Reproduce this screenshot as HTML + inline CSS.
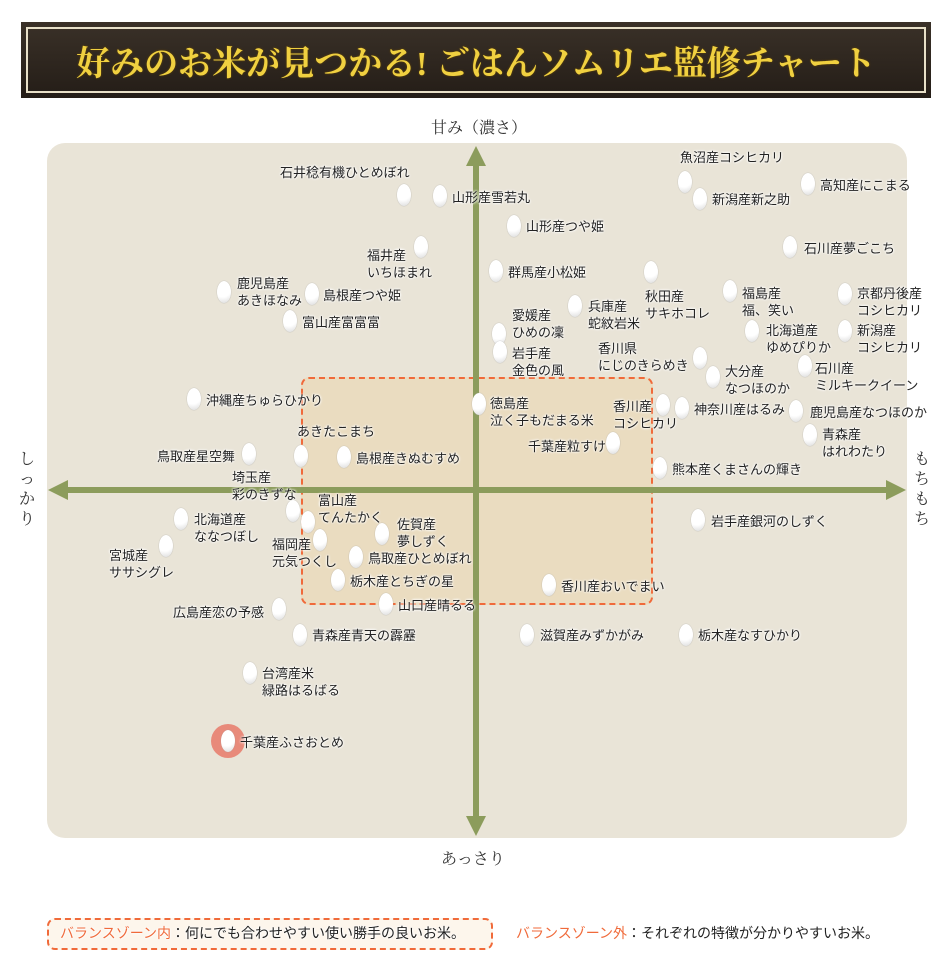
<!DOCTYPE html>
<html><head><meta charset="utf-8"><style>
body{margin:0;width:950px;height:970px;background:#fff;position:relative;overflow:hidden;font-family:"Liberation Sans","Noto Sans CJK JP",sans-serif;}
.hdr{position:absolute;left:21px;top:22px;width:910px;height:76px;background:linear-gradient(#3a3128,#241d17);box-sizing:border-box;}
.hdr .in{position:absolute;left:5px;top:5px;right:5px;bottom:5px;border:2px solid #e8e0c8;}
.hdr .t{position:absolute;left:0;right:0;top:14px;text-align:center;font-family:"Liberation Serif","Noto Serif CJK SC",serif;font-weight:bold;font-size:34px;color:#f0d040;text-shadow:0 0 2px #6a4a00;}
.chart{position:absolute;left:47px;top:143px;width:860px;height:695px;border-radius:18px;background:#e9e4d7;}
.zone{position:absolute;left:301px;top:377px;width:352px;height:228px;border:2.5px dashed #f06a3a;border-radius:8px;background:rgba(238,205,150,0.35);box-sizing:border-box;}
.ax{position:absolute;font-family:"Liberation Serif","Noto Serif CJK JP",serif;font-size:16px;color:#333;}
.l{position:absolute;font-size:13px;line-height:17px;white-space:nowrap;color:#222;text-shadow:0 0 2px #fff,0 0 2px #fff,0 0 3px #fff;}
.g{position:absolute;width:14px;height:22px;margin:-11px 0 0 -7px;border-radius:50%;background:radial-gradient(circle at 40% 35%,#fff 50%,#d8d8d8);box-shadow:0 0 1px #999;}
</style></head><body>
<div class="hdr"><div class="in"></div><div class="t">好みのお米が見つかる! ごはんソムリエ監修チャート</div></div>
<div class="ax" style="left:431px;top:115px">甘み（濃さ）</div>
<div class="ax" style="left:441px;top:846px">あっさり</div>
<div class="ax" style="left:19px;top:450px;width:17px;line-height:20px">し<br>っ<br>か<br>り</div>
<div class="ax" style="left:914px;top:450px;width:17px;line-height:20px">も<br>ち<br>も<br>ち</div>
<div class="chart"></div>
<div class="zone"></div>
<svg style="position:absolute;left:0;top:0" width="950" height="970">
<line x1="476" y1="162" x2="476" y2="822" stroke="#8c9c5c" stroke-width="6"/>
<polygon points="476,146 466,166 486,166" fill="#8c9c5c"/>
<polygon points="476,836 466,816 486,816" fill="#8c9c5c"/>
<line x1="64" y1="490" x2="890" y2="490" stroke="#8c9c5c" stroke-width="6"/>
<polygon points="48,490 68,480 68,500" fill="#8c9c5c"/>
<polygon points="906,490 886,480 886,500" fill="#8c9c5c"/>
<circle cx="228" cy="741" r="17" fill="#e88070" opacity="0.9"/>
</svg>
<div class="l" style="left:280px;top:164px">石井稔有機ひとめぼれ</div><div class="g" style="left:404px;top:195px"></div>
<div class="g" style="left:440px;top:196px"></div><div class="l" style="left:452px;top:189px">山形産雪若丸</div>
<div class="g" style="left:514px;top:226px"></div><div class="l" style="left:526px;top:218px">山形産つや姫</div>
<div class="g" style="left:421px;top:247px"></div><div class="l" style="left:367px;top:247px">福井産<br>いちほまれ</div>
<div class="g" style="left:496px;top:271px"></div><div class="l" style="left:508px;top:264px">群馬産小松姫</div>
<div class="g" style="left:224px;top:292px"></div><div class="l" style="left:237px;top:275px">鹿児島産<br>あきほなみ</div>
<div class="g" style="left:312px;top:294px"></div><div class="l" style="left:323px;top:287px">島根産つや姫</div>
<div class="g" style="left:290px;top:321px"></div><div class="l" style="left:302px;top:314px">富山産富富富</div>
<div class="g" style="left:499px;top:334px"></div><div class="l" style="left:512px;top:307px">愛媛産<br>ひめの凜</div>
<div class="g" style="left:500px;top:352px"></div><div class="l" style="left:512px;top:345px">岩手産<br>金色の風</div>
<div class="g" style="left:575px;top:306px"></div><div class="l" style="left:588px;top:298px">兵庫産<br>蛇紋岩米</div>
<div class="g" style="left:651px;top:272px"></div><div class="l" style="left:645px;top:288px">秋田産<br>サキホコレ</div>
<div class="g" style="left:730px;top:291px"></div><div class="l" style="left:742px;top:285px">福島産<br>福、笑い</div>
<div class="g" style="left:845px;top:294px"></div><div class="l" style="left:857px;top:285px">京都丹後産<br>コシヒカリ</div>
<div class="g" style="left:752px;top:331px"></div><div class="l" style="left:766px;top:322px">北海道産<br>ゆめぴりか</div>
<div class="g" style="left:845px;top:331px"></div><div class="l" style="left:857px;top:322px">新潟産<br>コシヒカリ</div>
<div class="l" style="left:598px;top:340px">香川県<br>にじのきらめき</div><div class="g" style="left:700px;top:358px"></div>
<div class="g" style="left:713px;top:377px"></div><div class="l" style="left:725px;top:363px">大分産<br>なつほのか</div>
<div class="g" style="left:805px;top:366px"></div><div class="l" style="left:815px;top:360px">石川産<br>ミルキークイーン</div>
<div class="l" style="left:680px;top:149px">魚沼産コシヒカリ</div><div class="g" style="left:685px;top:182px"></div>
<div class="g" style="left:700px;top:199px"></div><div class="l" style="left:712px;top:191px">新潟産新之助</div>
<div class="g" style="left:808px;top:184px"></div><div class="l" style="left:820px;top:177px">高知産にこまる</div>
<div class="g" style="left:790px;top:247px"></div><div class="l" style="left:804px;top:240px">石川産夢ごこち</div>
<div class="g" style="left:194px;top:399px"></div><div class="l" style="left:206px;top:392px">沖縄産ちゅらひかり</div>
<div class="g" style="left:479px;top:404px"></div><div class="l" style="left:490px;top:395px">徳島産<br>泣く子もだまる米</div>
<div class="g" style="left:663px;top:405px"></div><div class="l" style="left:613px;top:398px">香川産<br>コシヒカリ</div>
<div class="g" style="left:682px;top:408px"></div><div class="l" style="left:694px;top:401px">神奈川産はるみ</div>
<div class="g" style="left:796px;top:411px"></div><div class="l" style="left:810px;top:404px">鹿児島産なつほのか</div>
<div class="g" style="left:810px;top:435px"></div><div class="l" style="left:822px;top:426px">青森産<br>はれわたり</div>
<div class="l" style="left:297px;top:423px">あきたこまち</div><div class="g" style="left:301px;top:456px"></div>
<div class="g" style="left:344px;top:457px"></div><div class="l" style="left:356px;top:450px">島根産きぬむすめ</div>
<div class="l" style="left:157px;top:448px">鳥取産星空舞</div><div class="g" style="left:249px;top:454px"></div>
<div class="l" style="left:528px;top:438px">千葉産粒すけ</div><div class="g" style="left:613px;top:443px"></div>
<div class="l" style="left:232px;top:469px">埼玉産<br>彩のきずな</div>
<div class="g" style="left:660px;top:468px"></div><div class="l" style="left:672px;top:461px">熊本産くまさんの輝き</div>
<div class="g" style="left:181px;top:519px"></div><div class="l" style="left:194px;top:511px">北海道産<br>ななつぼし</div>
<div class="g" style="left:698px;top:520px"></div><div class="l" style="left:711px;top:513px">岩手産銀河のしずく</div>
<div class="g" style="left:166px;top:546px"></div><div class="l" style="left:109px;top:547px">宮城産<br>ササシグレ</div>
<div class="g" style="left:293px;top:511px"></div><div class="g" style="left:308px;top:522px"></div><div class="l" style="left:318px;top:492px">富山産<br>てんたかく</div>
<div class="g" style="left:382px;top:534px"></div><div class="l" style="left:397px;top:516px">佐賀産<br>夢しずく</div>
<div class="g" style="left:320px;top:540px"></div><div class="l" style="left:272px;top:536px">福岡産<br>元気つくし</div>
<div class="g" style="left:356px;top:557px"></div><div class="l" style="left:368px;top:550px">鳥取産ひとめぼれ</div>
<div class="g" style="left:338px;top:580px"></div><div class="l" style="left:350px;top:573px">栃木産とちぎの星</div>
<div class="g" style="left:549px;top:585px"></div><div class="l" style="left:561px;top:578px">香川産おいでまい</div>
<div class="g" style="left:386px;top:604px"></div><div class="l" style="left:398px;top:597px">山口産晴るる</div>
<div class="l" style="left:173px;top:604px">広島産恋の予感</div><div class="g" style="left:279px;top:609px"></div>
<div class="g" style="left:300px;top:635px"></div><div class="l" style="left:312px;top:627px">青森産青天の霹靂</div>
<div class="g" style="left:527px;top:635px"></div><div class="l" style="left:540px;top:627px">滋賀産みずかがみ</div>
<div class="g" style="left:686px;top:635px"></div><div class="l" style="left:698px;top:627px">栃木産なすひかり</div>
<div class="g" style="left:250px;top:673px"></div><div class="l" style="left:262px;top:665px">台湾産米<br>緑路はるばる</div>
<div class="g" style="left:228px;top:741px"></div><div class="l" style="left:240px;top:734px">千葉産ふさおとめ</div>
<div style="position:absolute;left:47px;top:918px;width:446px;height:32px;border:2.5px dashed #f06a3a;border-radius:8px;background:#fdf6ec;box-sizing:border-box"></div>
<div class="l" style="left:60px;top:925px;font-size:14px"><span style="color:#f06a3a">バランスゾーン内</span>：何にでも合わせやすい使い勝手の良いお米。</div>
<div class="l" style="left:516px;top:925px;font-size:14px"><span style="color:#f06a3a">バランスゾーン外</span>：それぞれの特徴が分かりやすいお米。</div>
</body></html>
